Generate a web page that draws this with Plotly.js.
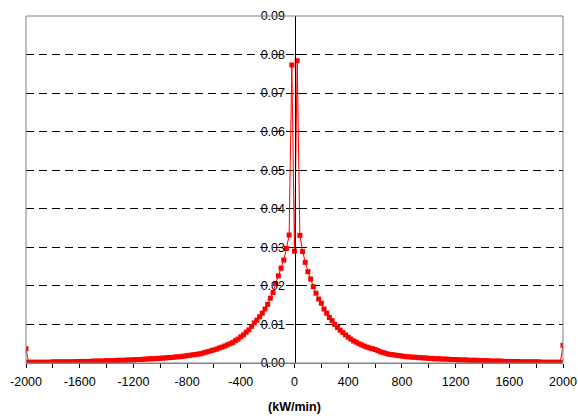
<!DOCTYPE html>
<html>
<head>
<meta charset="utf-8">
<script src="https://cdn.plot.ly/plotly-3.0.1.min.js"></script>
<style>html,body{margin:0;padding:0;background:#fff;}#chart{width:578px;height:416px;}</style>
</head>
<body>
<div id="chart"></div>
<script>
// x values: start and step of the regularly spaced series (kW/min)
const X_START = -2000;
const X_STEP = 20;

// y values from x = -2000 to x = 2000, every 20
const VALUES_LEFT = [
  0.0037, 0.0002, 0.0002, 0.0002, 0.0002, 0.0002, 0.0002, 0.0002, 0.0002, 0.0002,
  0.0003, 0.0003, 0.0003, 0.0003, 0.0003, 0.0003, 0.0003, 0.0003, 0.0003, 0.0004,
  0.0004, 0.0004, 0.0004, 0.0004, 0.0004, 0.0005, 0.0005, 0.0005, 0.0005, 0.0005,
  0.0006, 0.0006, 0.0006, 0.0006, 0.0007, 0.0007, 0.0007, 0.0007, 0.0008, 0.0008,
  0.0008, 0.0009, 0.0009, 0.0009, 0.0010, 0.0010, 0.0011, 0.0011, 0.0011, 0.0012,
  0.0012, 0.0013, 0.0013, 0.0014, 0.0014, 0.0015, 0.0016, 0.0016, 0.0017, 0.0018,
  0.0019, 0.0020, 0.0021, 0.0022, 0.0023, 0.0024, 0.0026, 0.0028, 0.0030, 0.0032,
  0.0034, 0.0036, 0.0039, 0.0041, 0.0044, 0.0047, 0.0050, 0.0053, 0.0058, 0.0062,
  0.0068, 0.0073, 0.0080, 0.0086, 0.0095, 0.0104, 0.0111, 0.0120, 0.0129, 0.0140,
  0.0152, 0.0168, 0.0183, 0.0206, 0.0226, 0.0246, 0.0267, 0.0297, 0.0332, 0.0773
];
const VALUE_CENTER = [0.0290];
const VALUES_RIGHT = [
  0.0784, 0.0331, 0.0289, 0.0261, 0.0237, 0.0218, 0.0198, 0.0181, 0.0166, 0.0155,
  0.0140, 0.0129, 0.0118, 0.0110, 0.0100, 0.0092, 0.0085, 0.0079, 0.0073, 0.0067,
  0.0062, 0.0057, 0.0054, 0.0050, 0.0047, 0.0044, 0.0041, 0.0039, 0.0037, 0.0035,
  0.0032, 0.0029, 0.0027, 0.0025, 0.0023, 0.0022, 0.0021, 0.0020, 0.0019, 0.0018,
  0.0017, 0.0016, 0.0016, 0.0015, 0.0015, 0.0014, 0.0014, 0.0013, 0.0013, 0.0012,
  0.0012, 0.0011, 0.0011, 0.0011, 0.0010, 0.0010, 0.0010, 0.0009, 0.0009, 0.0009,
  0.0008, 0.0008, 0.0008, 0.0008, 0.0007, 0.0007, 0.0007, 0.0007, 0.0006, 0.0006,
  0.0006, 0.0006, 0.0005, 0.0005, 0.0005, 0.0005, 0.0005, 0.0004, 0.0004, 0.0004,
  0.0004, 0.0004, 0.0004, 0.0003, 0.0003, 0.0003, 0.0003, 0.0003, 0.0003, 0.0003,
  0.0003, 0.0002, 0.0002, 0.0002, 0.0002, 0.0002, 0.0002, 0.0002, 0.0002, 0.0046
];

// x tick positions and labels
const X_TICK_VALS = [-2000,-1800,-1600,-1400,-1200,-1000,-800,-600,-400,-200,0,200,400,600,800,1000,1200,1400,1600,1800,2000];
const X_TICK_TEXT = ['-2000','','-1600','','-1200','','-800','','-400','','0','','400','','800','','1200','','1600','','2000'];
const X_TITLE = '(kW/min)';

const yValues = VALUES_LEFT.concat(VALUE_CENTER, VALUES_RIGHT);

const trace = {
  type: 'scatter',
  mode: 'lines+markers',
  x0: X_START,
  dx: X_STEP,
  y: yValues,
  line: {color: '#ff0000', width: 1},
  marker: {color: '#ff0000', symbol: 'square', size: 5},
  hoverinfo: 'x+y'
};

const layout = {
  width: 578,
  height: 416,
  margin: {l: 26, r: 15, t: 16, b: 53},
  paper_bgcolor: '#ffffff',
  plot_bgcolor: '#ffffff',
  showlegend: false,
  font: {family: 'Liberation Sans, Arial, sans-serif', size: 12, color: '#000'},
  xaxis: {
    range: [-2000, 2000],
    tickmode: 'array',
    tickvals: X_TICK_VALS,
    ticktext: X_TICK_TEXT,
    ticks: 'outside',
    ticklen: 4,
    tickcolor: '#000',
    showgrid: false,
    zeroline: false,
    showline: true,
    linecolor: '#808080',
    linewidth: 1,
    ticklabelstandoff: 3,
    tickfont: {size: 12.5, color: '#000'},
    title: {text: X_TITLE, font: {size: 12.5, color: '#000', weight: 'bold'}, standoff: 14}
  },
  yaxis: {
    range: [0, 0.09],
    dtick: 0.01,
    tick0: 0,
    tickformat: '.2f',
    anchor: 'free',
    position: 0.5,
    side: 'left',
    ticks: 'inside',
    ticklen: 4,
    tickcolor: '#000',
    showline: true,
    linecolor: '#000',
    linewidth: 1,
    showgrid: true,
    gridcolor: '#000',
    gridwidth: 1,
    griddash: '8px,5px',
    zeroline: false,
    tickfont: {size: 12.5, color: '#000'},
    ticklabelstandoff: 7
  },
  shapes: [
    {type: 'rect', xref: 'paper', yref: 'paper', x0: 0, x1: 1, y0: 0, y1: 1,
     line: {color: '#808080', width: 1}, fillcolor: 'rgba(0,0,0,0)', layer: 'above'}
  ]
};

Plotly.newPlot('chart', [trace], layout, {displayModeBar: false, staticPlot: true});
</script>
</body>
</html>
